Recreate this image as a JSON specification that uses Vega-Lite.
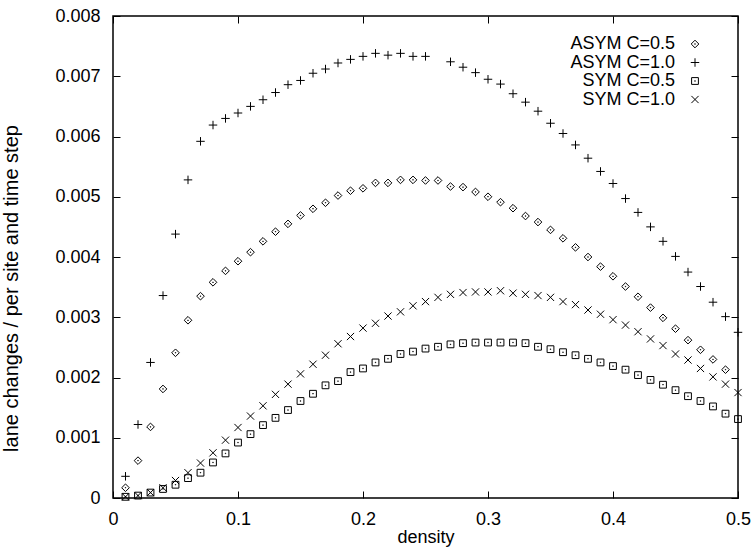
{
  "$schema": "https://vega.github.io/schema/vega-lite/v6.json",
  "width": 625,
  "height": 482,
  "autosize": {"type": "none"},
  "padding": {"left": 113, "top": 16, "right": 14, "bottom": 52},
  "background": "white",
  "config": {
    "view": {"stroke": "black", "strokeWidth": 1.5},
    "font": "Liberation Sans",
    "axis": {
      "labelFont": "Liberation Sans",
      "labelFontSize": 18,
      "labelColor": "black",
      "titleFont": "Liberation Sans",
      "titleFontSize": 18,
      "titleFontWeight": "normal",
      "titleColor": "black",
      "domain": false,
      "grid": false,
      "tickColor": "black",
      "tickWidth": 1,
      "tickSize": -7
    }
  },
  "data": {"values": [
    {"s":"ASYM C=1.0","d":0.01,"v":0.00036},{"s":"ASYM C=1.0","d":0.02,"v":0.00122},{"s":"ASYM C=1.0","d":0.03,"v":0.00225},{"s":"ASYM C=1.0","d":0.04,"v":0.00336},{"s":"ASYM C=1.0","d":0.05,"v":0.00438},
    {"s":"ASYM C=1.0","d":0.06,"v":0.00528},{"s":"ASYM C=1.0","d":0.07,"v":0.00592},{"s":"ASYM C=1.0","d":0.08,"v":0.00619},{"s":"ASYM C=1.0","d":0.09,"v":0.0063},{"s":"ASYM C=1.0","d":0.10,"v":0.00639},
    {"s":"ASYM C=1.0","d":0.11,"v":0.0065},{"s":"ASYM C=1.0","d":0.12,"v":0.00661},{"s":"ASYM C=1.0","d":0.13,"v":0.00673},{"s":"ASYM C=1.0","d":0.14,"v":0.00686},{"s":"ASYM C=1.0","d":0.15,"v":0.00693},
    {"s":"ASYM C=1.0","d":0.16,"v":0.00705},{"s":"ASYM C=1.0","d":0.17,"v":0.00712},{"s":"ASYM C=1.0","d":0.18,"v":0.00722},{"s":"ASYM C=1.0","d":0.19,"v":0.00728},{"s":"ASYM C=1.0","d":0.20,"v":0.00733},
    {"s":"ASYM C=1.0","d":0.21,"v":0.00738},{"s":"ASYM C=1.0","d":0.22,"v":0.00735},{"s":"ASYM C=1.0","d":0.23,"v":0.00738},{"s":"ASYM C=1.0","d":0.24,"v":0.00733},{"s":"ASYM C=1.0","d":0.25,"v":0.00733},
    {"s":"ASYM C=1.0","d":0.27,"v":0.00724},{"s":"ASYM C=1.0","d":0.28,"v":0.00715},{"s":"ASYM C=1.0","d":0.29,"v":0.00706},{"s":"ASYM C=1.0","d":0.30,"v":0.00695},
    {"s":"ASYM C=1.0","d":0.31,"v":0.00687},{"s":"ASYM C=1.0","d":0.32,"v":0.00671},{"s":"ASYM C=1.0","d":0.33,"v":0.00657},{"s":"ASYM C=1.0","d":0.34,"v":0.00642},{"s":"ASYM C=1.0","d":0.35,"v":0.00622},
    {"s":"ASYM C=1.0","d":0.36,"v":0.00605},{"s":"ASYM C=1.0","d":0.37,"v":0.00586},{"s":"ASYM C=1.0","d":0.38,"v":0.00564},{"s":"ASYM C=1.0","d":0.39,"v":0.00542},{"s":"ASYM C=1.0","d":0.40,"v":0.00522},
    {"s":"ASYM C=1.0","d":0.41,"v":0.00497},{"s":"ASYM C=1.0","d":0.42,"v":0.00474},{"s":"ASYM C=1.0","d":0.43,"v":0.0045},{"s":"ASYM C=1.0","d":0.44,"v":0.00426},{"s":"ASYM C=1.0","d":0.45,"v":0.00401},
    {"s":"ASYM C=1.0","d":0.46,"v":0.00375},{"s":"ASYM C=1.0","d":0.47,"v":0.00351},{"s":"ASYM C=1.0","d":0.48,"v":0.00325},{"s":"ASYM C=1.0","d":0.49,"v":0.00301},{"s":"ASYM C=1.0","d":0.50,"v":0.00275},

    {"s":"ASYM C=0.5","d":0.01,"v":0.00017},{"s":"ASYM C=0.5","d":0.02,"v":0.00062},{"s":"ASYM C=0.5","d":0.03,"v":0.00118},{"s":"ASYM C=0.5","d":0.04,"v":0.00181},{"s":"ASYM C=0.5","d":0.05,"v":0.00241},
    {"s":"ASYM C=0.5","d":0.06,"v":0.00295},{"s":"ASYM C=0.5","d":0.07,"v":0.00335},{"s":"ASYM C=0.5","d":0.08,"v":0.00358},{"s":"ASYM C=0.5","d":0.09,"v":0.00377},{"s":"ASYM C=0.5","d":0.10,"v":0.00393},
    {"s":"ASYM C=0.5","d":0.11,"v":0.00408},{"s":"ASYM C=0.5","d":0.12,"v":0.00426},{"s":"ASYM C=0.5","d":0.13,"v":0.00442},{"s":"ASYM C=0.5","d":0.14,"v":0.00455},{"s":"ASYM C=0.5","d":0.15,"v":0.00469},
    {"s":"ASYM C=0.5","d":0.16,"v":0.0048},{"s":"ASYM C=0.5","d":0.17,"v":0.0049},{"s":"ASYM C=0.5","d":0.18,"v":0.00502},{"s":"ASYM C=0.5","d":0.19,"v":0.0051},{"s":"ASYM C=0.5","d":0.20,"v":0.00514},
    {"s":"ASYM C=0.5","d":0.21,"v":0.00523},{"s":"ASYM C=0.5","d":0.22,"v":0.00523},{"s":"ASYM C=0.5","d":0.23,"v":0.00528},{"s":"ASYM C=0.5","d":0.24,"v":0.00528},{"s":"ASYM C=0.5","d":0.25,"v":0.00527},
    {"s":"ASYM C=0.5","d":0.26,"v":0.00527},{"s":"ASYM C=0.5","d":0.27,"v":0.00517},{"s":"ASYM C=0.5","d":0.28,"v":0.00516},{"s":"ASYM C=0.5","d":0.29,"v":0.00508},{"s":"ASYM C=0.5","d":0.30,"v":0.005},
    {"s":"ASYM C=0.5","d":0.31,"v":0.00491},{"s":"ASYM C=0.5","d":0.32,"v":0.00481},{"s":"ASYM C=0.5","d":0.33,"v":0.00468},{"s":"ASYM C=0.5","d":0.34,"v":0.00458},{"s":"ASYM C=0.5","d":0.35,"v":0.00445},
    {"s":"ASYM C=0.5","d":0.36,"v":0.00431},{"s":"ASYM C=0.5","d":0.37,"v":0.00416},{"s":"ASYM C=0.5","d":0.38,"v":0.004},{"s":"ASYM C=0.5","d":0.39,"v":0.00384},{"s":"ASYM C=0.5","d":0.40,"v":0.00368},
    {"s":"ASYM C=0.5","d":0.41,"v":0.00351},{"s":"ASYM C=0.5","d":0.42,"v":0.00334},{"s":"ASYM C=0.5","d":0.43,"v":0.00316},{"s":"ASYM C=0.5","d":0.44,"v":0.00299},{"s":"ASYM C=0.5","d":0.45,"v":0.00281},
    {"s":"ASYM C=0.5","d":0.46,"v":0.00262},{"s":"ASYM C=0.5","d":0.47,"v":0.00246},{"s":"ASYM C=0.5","d":0.48,"v":0.0023},{"s":"ASYM C=0.5","d":0.49,"v":0.00213},

    {"s":"SYM C=0.5","d":0.01,"v":0.00002},{"s":"SYM C=0.5","d":0.02,"v":0.00004},{"s":"SYM C=0.5","d":0.03,"v":0.00009},{"s":"SYM C=0.5","d":0.04,"v":0.00015},{"s":"SYM C=0.5","d":0.05,"v":0.00022},
    {"s":"SYM C=0.5","d":0.06,"v":0.00033},{"s":"SYM C=0.5","d":0.07,"v":0.00042},{"s":"SYM C=0.5","d":0.08,"v":0.00059},{"s":"SYM C=0.5","d":0.09,"v":0.00074},{"s":"SYM C=0.5","d":0.10,"v":0.00092},
    {"s":"SYM C=0.5","d":0.11,"v":0.00106},{"s":"SYM C=0.5","d":0.12,"v":0.00121},{"s":"SYM C=0.5","d":0.13,"v":0.00133},{"s":"SYM C=0.5","d":0.14,"v":0.00146},{"s":"SYM C=0.5","d":0.15,"v":0.00161},
    {"s":"SYM C=0.5","d":0.16,"v":0.00173},{"s":"SYM C=0.5","d":0.17,"v":0.00187},{"s":"SYM C=0.5","d":0.18,"v":0.00194},{"s":"SYM C=0.5","d":0.19,"v":0.00209},{"s":"SYM C=0.5","d":0.20,"v":0.00215},
    {"s":"SYM C=0.5","d":0.21,"v":0.00225},{"s":"SYM C=0.5","d":0.22,"v":0.00231},{"s":"SYM C=0.5","d":0.23,"v":0.00239},{"s":"SYM C=0.5","d":0.24,"v":0.00243},{"s":"SYM C=0.5","d":0.25,"v":0.00248},
    {"s":"SYM C=0.5","d":0.26,"v":0.00251},{"s":"SYM C=0.5","d":0.27,"v":0.00255},{"s":"SYM C=0.5","d":0.28,"v":0.00257},{"s":"SYM C=0.5","d":0.29,"v":0.00258},{"s":"SYM C=0.5","d":0.30,"v":0.00258},
    {"s":"SYM C=0.5","d":0.31,"v":0.00258},{"s":"SYM C=0.5","d":0.32,"v":0.00258},{"s":"SYM C=0.5","d":0.33,"v":0.00257},{"s":"SYM C=0.5","d":0.34,"v":0.00251},{"s":"SYM C=0.5","d":0.35,"v":0.00247},
    {"s":"SYM C=0.5","d":0.36,"v":0.00242},{"s":"SYM C=0.5","d":0.37,"v":0.00237},{"s":"SYM C=0.5","d":0.38,"v":0.00231},{"s":"SYM C=0.5","d":0.39,"v":0.00225},{"s":"SYM C=0.5","d":0.40,"v":0.00219},
    {"s":"SYM C=0.5","d":0.41,"v":0.00213},{"s":"SYM C=0.5","d":0.42,"v":0.00204},{"s":"SYM C=0.5","d":0.43,"v":0.00196},{"s":"SYM C=0.5","d":0.44,"v":0.00188},{"s":"SYM C=0.5","d":0.45,"v":0.00179},
    {"s":"SYM C=0.5","d":0.46,"v":0.00169},{"s":"SYM C=0.5","d":0.47,"v":0.00161},{"s":"SYM C=0.5","d":0.48,"v":0.00152},{"s":"SYM C=0.5","d":0.49,"v":0.0014},{"s":"SYM C=0.5","d":0.50,"v":0.00131},

    {"s":"SYM C=1.0","d":0.01,"v":0.00002},{"s":"SYM C=1.0","d":0.02,"v":0.00004},{"s":"SYM C=1.0","d":0.03,"v":0.00009},{"s":"SYM C=1.0","d":0.04,"v":0.00017},{"s":"SYM C=1.0","d":0.05,"v":0.00029},
    {"s":"SYM C=1.0","d":0.06,"v":0.00042},{"s":"SYM C=1.0","d":0.07,"v":0.00058},{"s":"SYM C=1.0","d":0.08,"v":0.00075},{"s":"SYM C=1.0","d":0.09,"v":0.00096},{"s":"SYM C=1.0","d":0.10,"v":0.00117},
    {"s":"SYM C=1.0","d":0.11,"v":0.00136},{"s":"SYM C=1.0","d":0.12,"v":0.00153},{"s":"SYM C=1.0","d":0.13,"v":0.00172},{"s":"SYM C=1.0","d":0.14,"v":0.00189},{"s":"SYM C=1.0","d":0.15,"v":0.00206},
    {"s":"SYM C=1.0","d":0.16,"v":0.00222},{"s":"SYM C=1.0","d":0.17,"v":0.00237},{"s":"SYM C=1.0","d":0.18,"v":0.00256},{"s":"SYM C=1.0","d":0.19,"v":0.00268},{"s":"SYM C=1.0","d":0.20,"v":0.00282},
    {"s":"SYM C=1.0","d":0.21,"v":0.0029},{"s":"SYM C=1.0","d":0.22,"v":0.00302},{"s":"SYM C=1.0","d":0.23,"v":0.00309},{"s":"SYM C=1.0","d":0.24,"v":0.00319},{"s":"SYM C=1.0","d":0.25,"v":0.00326},
    {"s":"SYM C=1.0","d":0.26,"v":0.00333},{"s":"SYM C=1.0","d":0.27,"v":0.00338},{"s":"SYM C=1.0","d":0.28,"v":0.00341},{"s":"SYM C=1.0","d":0.29,"v":0.00342},{"s":"SYM C=1.0","d":0.30,"v":0.00342},
    {"s":"SYM C=1.0","d":0.31,"v":0.00344},{"s":"SYM C=1.0","d":0.32,"v":0.0034},{"s":"SYM C=1.0","d":0.33,"v":0.00338},{"s":"SYM C=1.0","d":0.34,"v":0.00336},{"s":"SYM C=1.0","d":0.35,"v":0.00333},
    {"s":"SYM C=1.0","d":0.36,"v":0.00326},{"s":"SYM C=1.0","d":0.37,"v":0.00321},{"s":"SYM C=1.0","d":0.38,"v":0.00312},{"s":"SYM C=1.0","d":0.39,"v":0.00305},{"s":"SYM C=1.0","d":0.40,"v":0.00296},
    {"s":"SYM C=1.0","d":0.41,"v":0.00287},{"s":"SYM C=1.0","d":0.42,"v":0.00276},{"s":"SYM C=1.0","d":0.43,"v":0.00264},{"s":"SYM C=1.0","d":0.44,"v":0.00253},{"s":"SYM C=1.0","d":0.45,"v":0.00239},
    {"s":"SYM C=1.0","d":0.46,"v":0.00229},{"s":"SYM C=1.0","d":0.47,"v":0.00215},{"s":"SYM C=1.0","d":0.48,"v":0.00201},{"s":"SYM C=1.0","d":0.49,"v":0.00189},{"s":"SYM C=1.0","d":0.50,"v":0.00175}
  ]},
  "layer": [
    {
      "mark": {"type": "point", "filled": false, "color": "black", "strokeWidth": 1, "opacity": 1, "size": 72},
      "encoding": {
        "x": {"field": "d", "type": "quantitative", "title": "density",
              "scale": {"domain": [0, 0.5], "nice": false, "zero": false},
              "axis": {"orient": "bottom", "values": [0, 0.1, 0.2, 0.3, 0.4, 0.5], "format": "~g", "labelPadding": 19, "titlePadding": 0, "labelFlush": false}},
        "y": {"field": "v", "type": "quantitative", "title": "lane changes / per site and time step",
              "scale": {"domain": [0, 0.008], "nice": false},
              "axis": {"orient": "left", "values": [0, 0.001, 0.002, 0.003, 0.004, 0.005, 0.006, 0.007, 0.008], "format": "~g", "labelPadding": 20, "titlePadding": 33, "titleFontSize": 20, "titleY": 272, "labelFlush": false}},
        "shape": {"field": "s", "type": "nominal",
                  "scale": {"domain": ["ASYM C=0.5", "ASYM C=1.0", "SYM C=0.5", "SYM C=1.0"],
                            "range": ["M0,-0.9L0.9,0L0,0.9L-0.9,0ZM-0.06,-0.06L0.06,-0.06L0.06,0.06L-0.06,0.06Z", "M-1,0L1,0M0,-1L0,1", "M-0.8,-0.8L0.8,-0.8L0.8,0.8L-0.8,0.8ZM-0.06,-0.06L0.06,-0.06L0.06,0.06L-0.06,0.06Z", "M-0.85,-0.85L0.85,0.85M-0.85,0.85L0.85,-0.85"]},
                  "legend": {"title": null, "orient": "none", "legendX": 573, "legendY": 19, "padding": 0,
                             "labelFont": "Liberation Sans", "labelFontSize": 18, "labelColor": "black",
                             "labelAlign": "right", "labelOffset": -29, "labelLimit": 0,
                             "symbolSize": 72, "symbolStrokeColor": "black", "symbolStrokeWidth": 1, "symbolFillColor": "transparent",
                             "rowPadding": 0.5}}
      }
    },
    {
      "mark": {"type": "point", "opacity": 0},
      "encoding": {
        "x": {"field": "d", "type": "quantitative",
              "axis": {"orient": "top", "values": [0, 0.1, 0.2, 0.3, 0.4, 0.5], "labels": false, "title": null}},
        "y": {"field": "v", "type": "quantitative",
              "axis": {"orient": "right", "values": [0, 0.001, 0.002, 0.003, 0.004, 0.005, 0.006, 0.007, 0.008], "labels": false, "title": null}}
      }
    }
  ],
  "resolve": {"axis": {"x": "independent", "y": "independent"}}
}
